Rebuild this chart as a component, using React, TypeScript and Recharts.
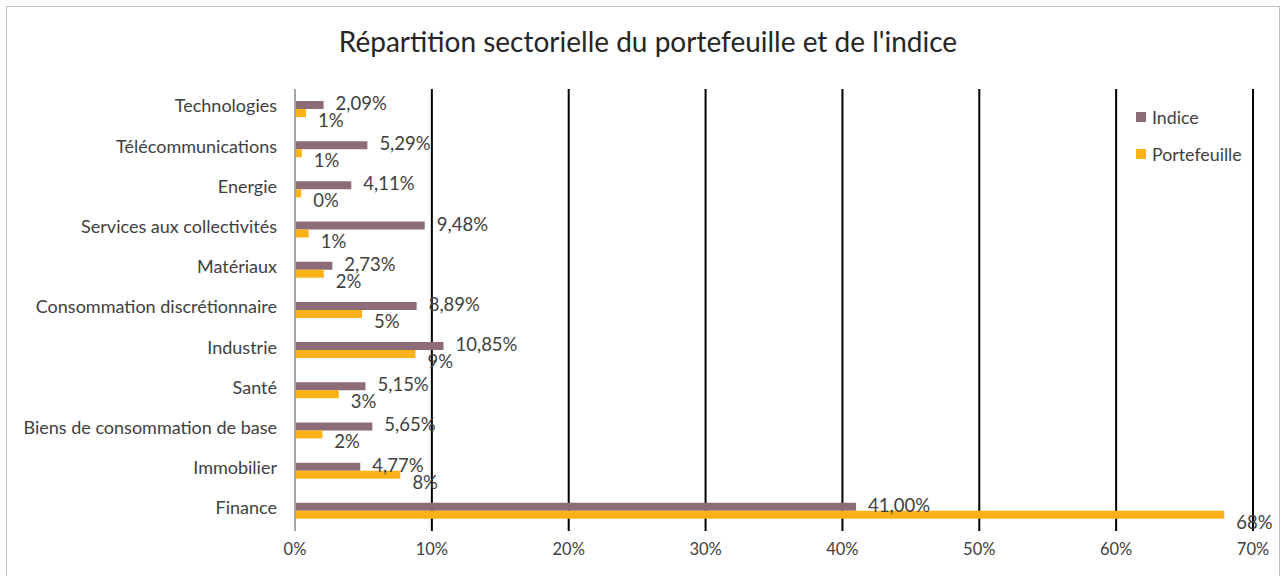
import React from "react";
import { BarChart, Bar, XAxis, YAxis, CartesianGrid, LabelList } from "recharts";

const sectors = [
  "Technologies",
  "Télécommunications",
  "Energie",
  "Services aux collectivités",
  "Matériaux",
  "Consommation discrétionnaire",
  "Industrie",
  "Santé",
  "Biens de consommation de base",
  "Immobilier",
  "Finance",
];
const indice = [2.09, 5.29, 4.11, 9.48, 2.73, 8.89, 10.85, 5.15, 5.65, 4.77, 41.0];
const portefeuille = [0.8, 0.5, 0.45, 1.0, 2.1, 4.9, 8.8, 3.2, 2.0, 7.7, 67.9];
const xTicks = [0, 10, 20, 30, 40, 50, 60, 70];

const data = sectors.map((name, i) => ({ name, Indice: indice[i], Portefeuille: portefeuille[i] }));

const FONT = "Lato, 'Noto Sans', sans-serif";
const INDICE_COLOR = "#8c6d77";
const PTF_COLOR = "#fbb216";
const TEXT = "#404040";

const IndiceLabel = (props: any) => {
  const { x, y, width, height, value } = props;
  return (
    <text x={x + width + 12} y={y + height / 2 - 2} dominantBaseline="central" fill={TEXT} fontSize={18.5} fontFamily={FONT}>
      {value.toFixed(2).replace(".", ",")}%
    </text>
  );
};

const PtfLabel = (props: any) => {
  const { x, y, width, height, value } = props;
  return (
    <text x={x + width + 12} y={y + height / 2 + 7} dominantBaseline="central" fill={TEXT} fontSize={18.5} fontFamily={FONT}>
      {Math.round(value)}%
    </text>
  );
};

const LegendBox = () => (
  <div style={{ position: "absolute", left: 1136, top: 107, fontFamily: FONT, fontSize: 17.8, color: TEXT }}>
    <div style={{ display: "flex", alignItems: "center", height: 20 }}>
      <span style={{ width: 10, height: 10, background: INDICE_COLOR, marginRight: 6 }} />
      Indice
    </div>
    <div style={{ display: "flex", alignItems: "center", height: 20, marginTop: 17 }}>
      <span style={{ width: 10, height: 10, background: PTF_COLOR, marginRight: 6 }} />
      Portefeuille
    </div>
  </div>
);

export default function App() {
  return (
    <div style={{ position: "absolute", left: 0, top: 0, width: 1287, height: 576, background: "#fff", overflow: "hidden" }}>
      <div
        style={{
          position: "absolute",
          left: 6,
          top: 6,
          width: 1274,
          height: 600,
          border: "1px solid #bfbfbf",
          boxSizing: "border-box",
        }}
      />
      <div
        style={{
          position: "absolute",
          left: 0,
          width: 1296,
          top: 24,
          textAlign: "center",
          fontFamily: FONT,
          fontSize: 28,
          color: "#262626",
        }}
      >
        Répartition sectorielle du portefeuille et de l'indice
      </div>
      <BarChart
        width={1287}
        height={576}
        data={data}
        layout="vertical"
        margin={{ top: 89, right: 34, bottom: 0, left: 0 }}
        barSize={8}
        barGap={0}
      >
        <CartesianGrid horizontal={false} vertical stroke="#000" strokeWidth={2} />
        <XAxis
          type="number"
          domain={[0, 70]}
          ticks={xTicks}
          tickFormatter={(v) => `${v}%`}
          axisLine={false}
          tickLine={false}
          tickMargin={6}
          height={45}
          tick={{ fill: TEXT, fontSize: 16.5, fontFamily: FONT }}
          interval={0}
        />
        <YAxis
          type="category"
          dataKey="name"
          width={295}
          axisLine={{ stroke: "#a6a6a6", strokeWidth: 2 }}
          tickLine={false}
          tickMargin={12}
          tick={{ fill: TEXT, fontSize: 18, fontFamily: FONT, dy: -3 }}
          interval={0}
        />
        <Bar dataKey="Indice" fill={INDICE_COLOR} isAnimationActive={false}>
          <LabelList dataKey="Indice" content={<IndiceLabel />} />
        </Bar>
        <Bar dataKey="Portefeuille" fill={PTF_COLOR} isAnimationActive={false}>
          <LabelList dataKey="Portefeuille" content={<PtfLabel />} />
        </Bar>
      </BarChart>
      <LegendBox />
    </div>
  );
}
